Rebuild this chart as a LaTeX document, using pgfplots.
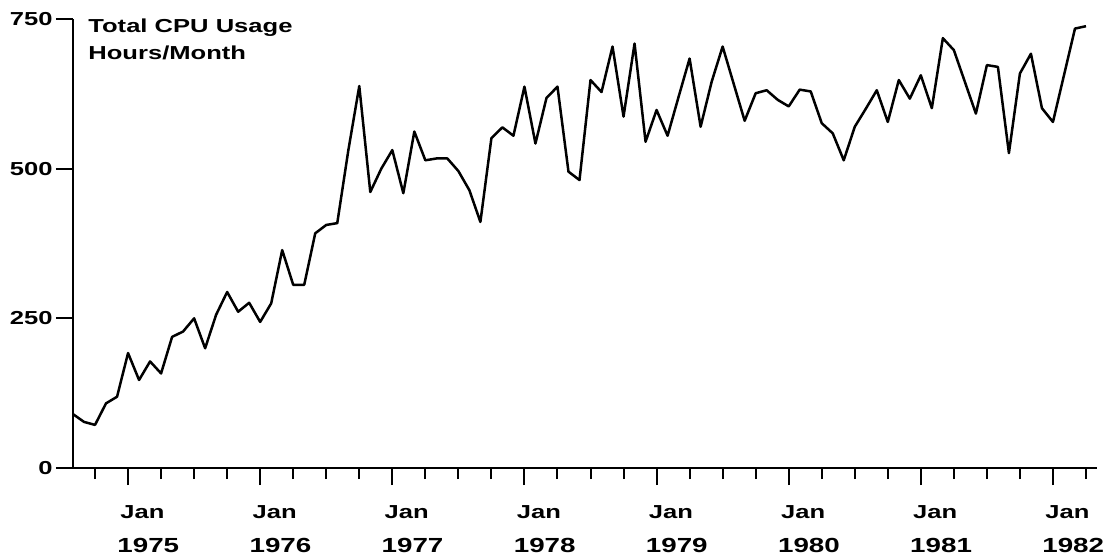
\documentclass[border=0pt]{standalone}
\usepackage{pgfplots}
\pgfplotsset{compat=1.18}
\usepackage{fontspec}
\setmainfont{Liberation Sans}[FakeStretch=1.36, BoldFeatures={FakeStretch=1.36}]
\newcommand\lblfont{\fontsize{9.4}{13.5}\selectfont\bfseries}
\newcommand\yrfont{\fontsize{10.2}{13.5}\selectfont\bfseries}
\tikzset{
  ylbl/.style={anchor=east, inner sep=0pt, xshift=-10pt, font=\lblfont},
  jlbl/.style={anchor=base west, inner sep=0pt, xshift=-4pt, yshift=-25pt, font=\lblfont},
  ylb/.style={anchor=base west, inner sep=0pt, xshift=-5.5pt, yshift=-42pt, font=\yrfont},
  ttl/.style={anchor=base west, inner sep=0pt, xshift=7.5pt, font=\lblfont},
}
\begin{document}
\begin{tikzpicture}
\path[use as bounding box] (-36.5pt,-45pt) rectangle (515.5pt,234pt);
\begin{axis}[
  at={(0,0)}, anchor=south west,
  scale only axis, width=512pt, height=224.5pt,
  xmin=-5, xmax=88, ymin=0, ymax=750,
  axis x line=bottom, axis y line=left,
  axis line style={-, line width=1.2pt},
  xtick={0,12,24,36,48,60,72,84},
  minor xtick={-3,3,6,9,15,18,21,27,30,33,39,42,45,51,54,57,63,66,69,75,78,81,87},
  ytick={0,250,500,750},
  xticklabels={}, yticklabels={},
  tick align=outside, major tick length=8.5pt, minor tick length=5.5pt,
  every tick/.style={black, line width=1pt},
  clip=false,
]
\addplot[black, line width=1.25pt, line join=round] coordinates {
(-5,90) (-4,77) (-3,72) (-2,108) (-1,119) (0,192) (1,147) (2,178) (3,158) (4,219)
(5,228) (6,250) (7,200) (8,256) (9,294) (10,261) (11,276) (12,244) (13,275) (14,364)
(15,306) (16,306) (17,392) (18,406) (19,409) (20,530) (21,638) (22,461) (23,500) (24,531)
(25,459) (26,562) (27,514) (28,517) (29,517) (30,496) (31,464) (32,411) (33,551) (34,569)
(35,555) (36,637) (37,542) (38,618) (39,637) (40,495) (41,481) (42,648) (43,628) (44,704)
(45,587) (46,709) (47,545) (48,598) (49,555) (50,620) (51,684) (52,570) (53,645) (54,704)
(55,642) (56,580) (57,626) (58,631) (59,615) (60,604) (61,632) (62,629) (63,576) (64,559)
(65,514) (66,570) (67,600) (68,631) (69,578) (70,648) (71,617) (72,656) (73,601) (74,718)
(75,698) (76,645) (77,592) (78,673) (79,670) (80,526) (81,659) (82,692) (83,601) (84,578)
(85,656) (86,734) (87,738)
};
\node[ylbl] at (axis cs:-5,0) {0};
\node[ylbl] at (axis cs:-5,250) {250};
\node[ylbl] at (axis cs:-5,500) {500};
\node[ylbl] at (axis cs:-5,750) {750};
\node[jlbl] at (axis cs:0,0) {Jan};  \node[ylb] at (axis cs:0,0) {1975};
\node[jlbl] at (axis cs:12,0) {Jan}; \node[ylb] at (axis cs:12,0) {1976};
\node[jlbl] at (axis cs:24,0) {Jan}; \node[ylb] at (axis cs:24,0) {1977};
\node[jlbl] at (axis cs:36,0) {Jan}; \node[ylb] at (axis cs:36,0) {1978};
\node[jlbl] at (axis cs:48,0) {Jan}; \node[ylb] at (axis cs:48,0) {1979};
\node[jlbl] at (axis cs:60,0) {Jan}; \node[ylb] at (axis cs:60,0) {1980};
\node[jlbl] at (axis cs:72,0) {Jan}; \node[ylb] at (axis cs:72,0) {1981};
\node[jlbl] at (axis cs:84,0) {Jan}; \node[ylb] at (axis cs:84,0) {1982};
\node[ttl, yshift=217.5pt] at (axis cs:-5,0) {Total CPU Usage};
\node[ttl, yshift=204pt] at (axis cs:-5,0) {Hours/Month};
\end{axis}
\end{tikzpicture}
\end{document}
